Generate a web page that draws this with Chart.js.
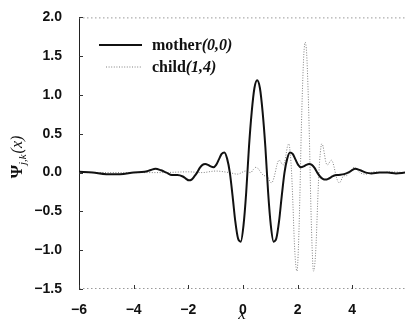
<!DOCTYPE html>
<html><head><meta charset="utf-8">
<script src="https://cdn.jsdelivr.net/npm/chart.js@4/dist/chart.umd.min.js"></script>
<style>html,body{margin:0;padding:0;background:#fff;}#wrap{width:405px;height:328px;}</style>
</head><body><div id="wrap"><canvas id="c" width="405" height="328"></canvas></div>
<script>
const seriesNames = ['mother', 'child'];
const seriesIndices = ['(0,0)', '(1,4)'];
const xTickValues = [-6, -4, -2, 0, 2, 4];
const yTickValues = [-1.5, -1.0, -0.5, 0.0, 0.5, 1.0, 1.5, 2.0];
const xAxisTitle = 'x';
const yAxisLabel = ['Ψ', 'j,k', '(x)'];

const motherX = [-6.0,-5.5,-5.0,-4.5,-4.0,-3.6,-3.4,-3.2,-3.0,-2.8,-2.6,-2.4,-2.2,-2.08,-1.98,-1.88,-1.78,-1.68,-1.58,-1.48,-1.38,-1.28,-1.18,-1.08,-0.98,-0.88,-0.78,-0.68,-0.58,-0.48,-0.38,-0.28,-0.18,-0.08,0.02,0.12,0.22,0.32,0.42,0.52,0.62,0.72,0.82,0.92,1.02,1.12,1.22,1.32,1.42,1.52,1.62,1.72,1.82,1.92,2.02,2.12,2.22,2.32,2.42,2.52,2.62,2.72,2.82,2.92,3.02,3.12,3.22,3.32,3.5,3.7,3.9,4.1,4.3,4.5,4.7,5.0,5.3,5.6,5.93];
const motherY = [0.01,0.0,-0.02,-0.02,0.0,0.01,0.03,0.05,0.03,0.0,-0.03,-0.03,-0.05,-0.08,-0.10,-0.09,-0.05,0.0,0.06,0.10,0.11,0.10,0.08,0.07,0.10,0.17,0.24,0.26,0.18,0.0,-0.30,-0.63,-0.85,-0.89,-0.68,-0.25,0.33,0.78,1.09,1.19,1.09,0.78,0.33,-0.25,-0.68,-0.89,-0.85,-0.63,-0.30,0.0,0.18,0.26,0.24,0.17,0.10,0.07,0.08,0.10,0.11,0.10,0.06,0.0,-0.05,-0.08,-0.09,-0.08,-0.06,-0.04,-0.03,-0.02,0.01,0.05,0.03,0.0,-0.01,0.0,0.0,-0.01,0.0];

const childX = [-6.0,-4.0,-3.0,-2.0,-1.5,-1.0,-0.5,-0.2,0.1,0.28,0.38,0.48,0.58,0.68,0.78,0.88,0.93,0.98,1.03,1.08,1.13,1.18,1.23,1.28,1.33,1.38,1.43,1.48,1.53,1.58,1.63,1.68,1.73,1.78,1.83,1.88,1.93,1.98,2.03,2.08,2.13,2.18,2.23,2.28,2.33,2.38,2.43,2.48,2.53,2.58,2.63,2.68,2.73,2.78,2.83,2.88,2.93,2.98,3.03,3.08,3.13,3.18,3.23,3.28,3.33,3.38,3.43,3.48,3.53,3.58,3.63,3.68,3.78,3.88,3.98,4.08,4.18,4.28,4.5,4.8,5.1,5.4,5.93];
const childY = [0.0,0.0,0.0,0.01,0.0,0.02,0.0,-0.02,0.02,0.0,0.04,0.07,0.04,-0.01,-0.04,-0.04,-0.07,-0.11,-0.13,-0.12,-0.07,0.0,0.08,0.14,0.16,0.14,0.11,0.10,0.14,0.24,0.34,0.37,0.25,0.0,-0.42,-0.89,-1.18,-1.27,-0.96,-0.35,0.47,1.10,1.54,1.68,1.54,1.10,0.47,-0.35,-0.96,-1.27,-1.18,-0.89,-0.42,0.0,0.25,0.37,0.34,0.24,0.14,0.10,0.11,0.14,0.16,0.14,0.08,0.0,-0.07,-0.12,-0.13,-0.11,-0.07,-0.04,-0.04,-0.01,0.04,0.07,0.04,0.0,-0.02,0.01,0.0,0.01,0.0];

const toPts = (xs, ys) => xs.map((x, i) => ({x: x, y: ys[i]}));
const seriesColors = ['#111111', '#808080'];
const seriesWidths = [2, 1];
const seriesDash = [[], [1, 1.6]];

const framePlugin = {
  id: 'frame',
  afterDraw(chart) {
    const ctx = chart.ctx;
    const a = chart.chartArea;
    const xs = chart.scales.x, ys = chart.scales.y;
    ctx.save();
    // dotted top and bottom frame
    ctx.strokeStyle = '#9a9a9a';
    ctx.lineWidth = 1;
    ctx.setLineDash([1.5, 2.5]);
    ctx.beginPath();
    ctx.moveTo(a.left, a.top + 0.5); ctx.lineTo(a.right, a.top + 0.5);
    ctx.moveTo(a.left, a.bottom - 0.5); ctx.lineTo(a.right, a.bottom - 0.5);
    ctx.stroke();
    ctx.setLineDash([]);
    // inward ticks
    ctx.strokeStyle = '#333';
    ctx.beginPath();
    yTickValues.forEach(v => {
      const p = Math.round(ys.getPixelForValue(v)) + 0.5;
      ctx.moveTo(a.left, p); ctx.lineTo(a.left + 4, p);
    });
    xTickValues.forEach(v => {
      const p = Math.round(xs.getPixelForValue(v)) + 0.5;
      ctx.moveTo(p, a.bottom); ctx.lineTo(p, a.bottom - 4);
    });
    ctx.stroke();
    // legend
    chart.data.datasets.forEach((ds, i) => {
      const base = 50 + 22 * i;
      ctx.strokeStyle = ds.borderColor;
      ctx.lineWidth = ds.borderWidth;
      ctx.setLineDash(ds.borderDash || []);
      ctx.beginPath();
      ctx.moveTo(i === 0 ? 99 : 106, base - 5);
      ctx.lineTo(142, base - 5);
      ctx.stroke();
      ctx.setLineDash([]);
      ctx.fillStyle = '#111';
      ctx.textAlign = 'left';
      ctx.textBaseline = 'alphabetic';
      ctx.font = 'bold 16px "Liberation Serif"';
      ctx.fillText(seriesNames[i], 152, base);
      const w = ctx.measureText(seriesNames[i]).width;
      ctx.font = 'italic bold 16px "Liberation Serif"';
      ctx.fillText(seriesIndices[i], 152 + w, base);
    });
    // y axis label
    ctx.translate(22, 157);
    ctx.rotate(-Math.PI / 2);
    ctx.fillStyle = '#111';
    ctx.textBaseline = 'alphabetic';
    const f0 = 'bold 17px "Liberation Serif"';
    const f1 = 'italic 11px "Liberation Serif"';
    const f2 = 'italic 16px "Liberation Serif"';
    ctx.font = f0; const w0 = ctx.measureText(yAxisLabel[0]).width;
    ctx.font = f1; const w1 = ctx.measureText(yAxisLabel[1]).width;
    ctx.font = f2; const w2 = ctx.measureText(yAxisLabel[2]).width;
    let sx = -(w0 + w1 + w2 + 1) / 2;
    ctx.font = f0; ctx.fillText(yAxisLabel[0], sx, 0); sx += w0;
    ctx.font = f1; ctx.fillText(yAxisLabel[1], sx, 4); sx += w1 + 1;
    ctx.font = f2; ctx.fillText(yAxisLabel[2], sx, 0);
    ctx.restore();
  }
};

new Chart(document.getElementById('c'), {
  type: 'line',
  data: {
    datasets: [0, 1].map(i => ({
      label: seriesNames[i] + seriesIndices[i],
      data: i === 0 ? toPts(motherX, motherY) : toPts(childX, childY),
      borderColor: seriesColors[i],
      borderWidth: seriesWidths[i],
      borderDash: seriesDash[i],
      pointRadius: 0,
      fill: false,
      cubicInterpolationMode: 'monotone'
    }))
  },
  options: {
    responsive: false,
    maintainAspectRatio: false,
    animation: false,
    devicePixelRatio: 1,
    layout: {padding: {top: 17, left: 0, right: 0, bottom: 0}},
    plugins: {legend: {display: false}, tooltip: {enabled: false}},
    scales: {
      x: {
        type: 'linear', min: -6, max: 5.93,
        afterBuildTicks: s => { s.ticks = xTickValues.map(v => ({value: v})); },
        afterFit: s => { s.height = 39; },
        grid: {display: false},
        border: {display: false},
        ticks: {
          padding: 5, color: '#111', maxRotation: 0, autoSkip: false,
          font: {family: '"Liberation Sans"', size: 14, weight: 'bold'},
          callback: v => (v < 0 ? '\u2212' : '') + Math.abs(v)
        },
        title: {
          display: true, text: xAxisTitle, color: '#111',
          font: {family: '"Liberation Serif"', size: 17, style: 'italic'},
          padding: {top: 0, bottom: 3}
        }
      },
      y: {
        type: 'linear', min: -1.5, max: 2.0,
        afterBuildTicks: s => { s.ticks = yTickValues.map(v => ({value: v})); },
        afterFit: s => { s.width = 79; },
        grid: {display: false},
        border: {display: true, color: '#222', width: 1},
        ticks: {
          padding: 9, color: '#111', autoSkip: false,
          font: {family: '"Liberation Sans"', size: 14, weight: 'bold'},
          callback: v => (v < 0 ? '\u2212' : '') + Math.abs(v).toFixed(1)
        }
      }
    }
  },
  plugins: [framePlugin]
});
</script>
</body></html>
